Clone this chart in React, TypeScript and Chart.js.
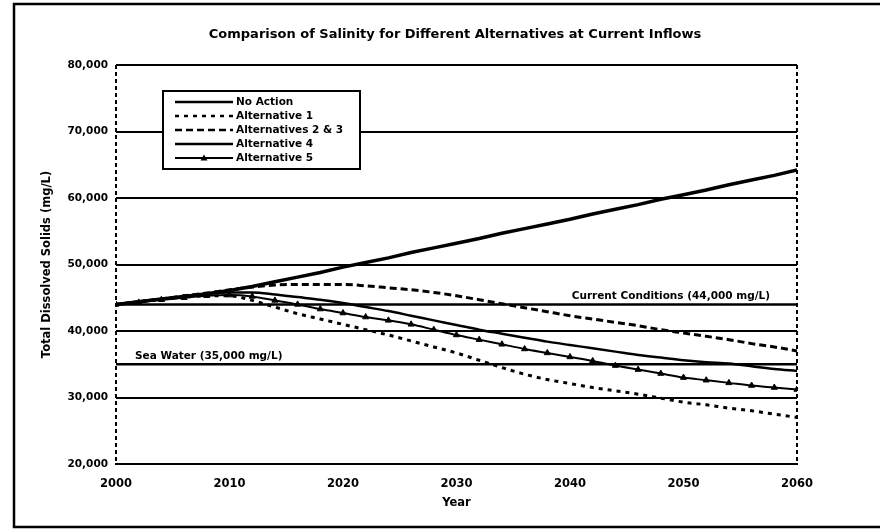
import React, { useEffect, useRef } from 'react';
import { Chart, registerables } from 'chart.js';

Chart.register(...registerables);

// Simulation years (every two years)
const years = [
  2000, 2002, 2004, 2006, 2008, 2010, 2012, 2014, 2016, 2018, 2020, 2022, 2024, 2026, 2028, 2030,
  2032, 2034, 2036, 2038, 2040, 2042, 2044, 2046, 2048, 2050, 2052, 2054, 2056, 2058, 2060,
];

// Total dissolved solids (mg/L) per alternative
const noAction = [
  44000, 44400, 44800, 45200, 45600, 46100, 46700, 47400, 48100, 48800, 49600, 50300, 51000, 51800, 52500, 53200,
  53900, 54700, 55400, 56100, 56800, 57600, 58300, 59000, 59800, 60500, 61200, 62000, 62700, 63400, 64200,
];
const alternative1 = [
  44000, 44400, 44800, 45100, 45300, 45300, 44600, 43600, 42600, 41800, 41000, 40200, 39400, 38500, 37600, 36700,
  35600, 34500, 33500, 32700, 32100, 31500, 31000, 30500, 29900, 29300, 28900, 28400, 28000, 27500, 27000,
];
const alternatives23 = [
  44000, 44400, 44800, 45300, 45700, 46200, 46600, 46900, 47000, 47000, 47000, 46800, 46500, 46200, 45800, 45300,
  44700, 44100, 43500, 42900, 42300, 41800, 41300, 40800, 40200, 39700, 39200, 38700, 38100, 37600, 37000,
];
const alternative4 = [
  44000, 44400, 44800, 45200, 45600, 45800, 45800, 45500, 45100, 44700, 44200, 43600, 43000, 42300, 41600, 40900,
  40200, 39600, 39000, 38400, 37900, 37400, 36900, 36400, 36000, 35600, 35300, 35100, 34700, 34300, 34000,
];
const alternative5 = [
  44000, 44300, 44700, 45000, 45300, 45400, 45200, 44600, 44000, 43300, 42700, 42100, 41600, 41000, 40200, 39400,
  38700, 38000, 37300, 36700, 36100, 35500, 34800, 34200, 33600, 33000, 32600, 32200, 31800, 31500, 31200,
];

const seriesLabels = ['No Action', 'Alternative 1', 'Alternatives 2 & 3', 'Alternative 4', 'Alternative 5'];

// Reference levels
const currentConditions = 44000;
const seaWater = 35000;
const currentConditionsLabel = 'Current Conditions (44,000 mg/L)';
const seaWaterLabel = 'Sea Water (35,000 mg/L)';

const chartTitle = 'Comparison of Salinity for Different Alternatives at Current Inflows';
const xTitle = 'Year';
const yTitle = 'Total Dissolved Solids (mg/L)';
const xRange = [2000, 2060];
const yRange = [20000, 80000];

const FONT = '"DejaVu Sans", "Liberation Sans", Arial, sans-serif';
const INK = '#000';

const toPoints = (vals: number[]) => years.map((x, i) => ({ x, y: vals[i] }));

const decorPlugin = {
  id: 'salinityDecor',
  afterDraw(chart: any) {
    const { ctx, chartArea, scales } = chart;
    const yS = scales.y;
    ctx.save();

    // outer frame
    ctx.strokeStyle = INK;
    ctx.lineWidth = 2.5;
    ctx.setLineDash([]);
    ctx.beginPath();
    ctx.moveTo(880, 4);
    ctx.lineTo(14, 4);
    ctx.lineTo(14, 527);
    ctx.lineTo(880, 527);
    ctx.stroke();

    // left and right frame of the plot area
    ctx.lineWidth = 2;
    ctx.setLineDash([4, 3]);
    ctx.beginPath();
    ctx.moveTo(chartArea.left, chartArea.top);
    ctx.lineTo(chartArea.left, chartArea.bottom);
    ctx.moveTo(chartArea.right, chartArea.top);
    ctx.lineTo(chartArea.right, chartArea.bottom);
    ctx.stroke();
    ctx.setLineDash([]);

    // title
    ctx.fillStyle = INK;
    ctx.font = `bold 13px ${FONT}`;
    ctx.textAlign = 'center';
    ctx.textBaseline = 'middle';
    ctx.fillText(chartTitle, 455, 35);

    // reference labels
    ctx.font = `bold 10.5px ${FONT}`;
    ctx.textAlign = 'right';
    ctx.textBaseline = 'alphabetic';
    ctx.fillText(currentConditionsLabel, 770, yS.getPixelForValue(currentConditions) - 5);
    ctx.textAlign = 'left';
    ctx.fillText(seaWaterLabel, 135, yS.getPixelForValue(seaWater) - 5);

    // legend
    const bx0 = 163, by0 = 91, bx1 = 360, by1 = 169;
    ctx.fillStyle = '#fff';
    ctx.fillRect(bx0, by0, bx1 - bx0, by1 - by0);
    ctx.strokeStyle = INK;
    ctx.lineWidth = 2;
    ctx.strokeRect(bx0, by0, bx1 - bx0, by1 - by0);
    ctx.font = `bold 10.5px ${FONT}`;
    ctx.textBaseline = 'middle';
    ctx.textAlign = 'left';
    for (let i = 0; i < seriesLabels.length; i++) {
      const ds = chart.data.datasets[i];
      const ry = 102 + i * 14;
      ctx.strokeStyle = INK;
      ctx.lineWidth = Math.min(ds.borderWidth, 2.5);
      ctx.setLineDash(ds.borderDash || []);
      ctx.beginPath();
      ctx.moveTo(175, ry);
      ctx.lineTo(233, ry);
      ctx.stroke();
      ctx.setLineDash([]);
      if (ds.pointRadius > 0) {
        const mx = 204;
        ctx.fillStyle = INK;
        ctx.beginPath();
        ctx.moveTo(mx, ry - 3.5);
        ctx.lineTo(mx + 3.5, ry + 2.5);
        ctx.lineTo(mx - 3.5, ry + 2.5);
        ctx.closePath();
        ctx.fill();
      }
      ctx.fillStyle = INK;
      ctx.fillText(seriesLabels[i], 236, ry);
    }
    ctx.restore();
  },
};

export default function App() {
  const canvasRef = useRef<HTMLCanvasElement | null>(null);

  useEffect(() => {
    const canvas = canvasRef.current;
    if (!canvas) return;

    const refLine = (value: number) => ({
      label: '',
      data: [
        { x: xRange[0], y: value },
        { x: xRange[1], y: value },
      ],
      borderColor: INK,
      borderWidth: 2.5,
      pointRadius: 0,
      fill: false,
    });

    const chart = new Chart(canvas, {
      type: 'line',
      data: {
        datasets: [
          {
            label: seriesLabels[0],
            data: toPoints(noAction),
            borderColor: INK,
            borderWidth: 3.5,
            pointRadius: 0,
            fill: false,
          },
          {
            label: seriesLabels[1],
            data: toPoints(alternative1),
            borderColor: INK,
            borderWidth: 3,
            borderDash: [4, 5],
            pointRadius: 0,
            cubicInterpolationMode: 'monotone',
            fill: false,
          },
          {
            label: seriesLabels[2],
            data: toPoints(alternatives23),
            borderColor: INK,
            borderWidth: 3,
            borderDash: [7, 4],
            pointRadius: 0,
            cubicInterpolationMode: 'monotone',
            fill: false,
          },
          {
            label: seriesLabels[3],
            data: toPoints(alternative4),
            borderColor: INK,
            borderWidth: 2.5,
            pointRadius: 0,
            cubicInterpolationMode: 'monotone',
            fill: false,
          },
          {
            label: seriesLabels[4],
            data: toPoints(alternative5),
            borderColor: INK,
            borderWidth: 2,
            pointStyle: 'triangle',
            pointRadius: 3.5,
            pointBackgroundColor: INK,
            pointBorderColor: INK,
            pointBorderWidth: 1,
            cubicInterpolationMode: 'monotone',
            fill: false,
          },
          refLine(currentConditions),
          refLine(seaWater),
        ] as any,
      },
      options: {
        responsive: false,
        animation: false,
        devicePixelRatio: 1,
        layout: { padding: { left: 0, top: 65, right: 84, bottom: 0 } },
        plugins: {
          legend: { display: false },
          title: { display: false },
          tooltip: { enabled: false },
        },
        scales: {
          x: {
            type: 'linear',
            min: xRange[0],
            max: xRange[1],
            afterFit: (s: any) => {
              s.height = 67;
            },
            ticks: {
              stepSize: 10,
              callback: (v: any) => String(v),
              color: INK,
              font: { family: FONT, size: 11.5, weight: 'bold' },
              padding: 13,
              maxRotation: 0,
            },
            grid: { display: false, drawTicks: false },
            border: { display: true, color: INK, width: 2 },
            title: {
              display: true,
              text: xTitle,
              color: INK,
              font: { family: FONT, size: 11.5, weight: 'bold' },
              padding: { top: 0, bottom: 21 },
            },
          },
          y: {
            type: 'linear',
            min: yRange[0],
            max: yRange[1],
            afterFit: (s: any) => {
              s.width = 116;
            },
            ticks: {
              stepSize: 10000,
              callback: (v: any) => Number(v).toLocaleString('en-US'),
              color: INK,
              font: { family: FONT, size: 10.5, weight: 'bold' },
              padding: 8,
            },
            grid: { color: INK, lineWidth: 2, drawTicks: false },
            border: { display: false },
            title: {
              display: true,
              text: yTitle,
              color: INK,
              font: { family: FONT, size: 11.5, weight: 'bold' },
              padding: { top: 40, bottom: 0 },
            },
          },
        },
      } as any,
      plugins: [decorPlugin],
    });

    return () => chart.destroy();
  }, []);

  return (
    <div style={{ position: 'absolute', left: 0, top: 0, width: 881, height: 531, background: '#fff' }}>
      <canvas ref={canvasRef} width={881} height={531} style={{ display: 'block' }} />
    </div>
  );
}
